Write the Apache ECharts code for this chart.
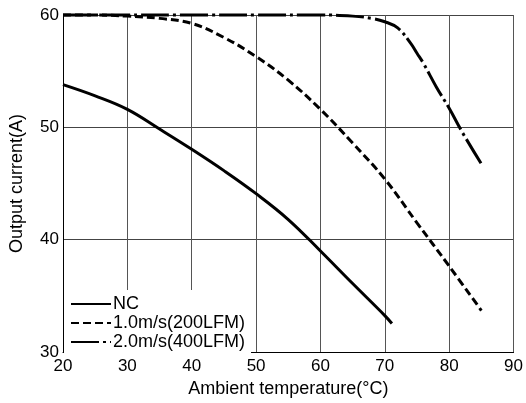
<!DOCTYPE html>
<html>
<head>
<meta charset="utf-8">
<script src="https://cdn.jsdelivr.net/npm/echarts@6/dist/echarts.min.js"></script>
<style>
html,body{margin:0;padding:0;background:#fff;}
#c{width:526px;height:403px;}
</style>
</head>
<body>
<div id="c"></div>
<script>
// Data
const seriesNames = ['NC', '1.0m/s(200LFM)', '2.0m/s(400LFM)'];
const ncTemp    = [20, 25, 30, 35, 40, 45, 50, 55, 60, 65, 70, 71.1];
const ncCurrent = [53.8, 52.8, 51.6, 49.85, 48.05, 46.15, 44.1, 41.8, 39.0, 36.1, 33.25, 32.55];
const v1Temp    = [20, 25, 30, 35, 40, 45, 50, 55, 60, 65, 70, 75, 80, 85];
const v1Current = [60, 60, 59.9, 59.7, 59.25, 58.0, 56.3, 54.2, 51.6, 48.6, 45.4, 41.5, 37.65, 33.7];
const v2Temp    = [20, 30, 40, 50, 60, 65, 68, 70, 72, 74, 75, 76, 78, 80, 82, 85];
const v2Current = [60, 60, 60, 60, 60, 59.9, 59.7, 59.4, 58.85, 57.5, 56.6, 55.7, 53.6, 51.7, 49.6, 46.75];
const xTicks = [20, 30, 40, 50, 60, 70, 80, 90];
const yTicks = [30, 40, 50, 60];
const xTitle = 'Ambient temperature(°C)';
const yTitle = 'Output current(A)';

const zip = (a, b) => a.map((v, i) => [v, b[i]]);
const FONT = "'Liberation Sans', Arial, Helvetica, sans-serif";

const chart = echarts.init(document.getElementById('c'), null, {renderer: 'canvas'});
chart.setOption({
  backgroundColor: '#fff',
  animation: false,
  textStyle: {fontFamily: FONT, color: '#000'},
  grid: {left: 62.5, right: 10.5, top: 15, bottom: 49, containLabel: false},
  xAxis: {
    type: 'value',
    min: xTicks[0], max: xTicks[xTicks.length - 1], interval: 10,
    name: xTitle, nameLocation: 'middle', nameGap: 26,
    nameTextStyle: {fontSize: 18, color: '#000', fontFamily: FONT},
    axisLine: {show: true, lineStyle: {color: '#000', width: 1}},
    axisTick: {show: false},
    axisLabel: {fontSize: 17, color: '#000', margin: 6, fontFamily: FONT},
    splitLine: {show: true, lineStyle: {color: '#555', width: 1}}
  },
  yAxis: {
    type: 'value',
    min: yTicks[0], max: yTicks[yTicks.length - 1], interval: 10,
    name: yTitle, nameLocation: 'middle', nameGap: 37, nameRotate: 90,
    nameTextStyle: {fontSize: 18, color: '#000', fontFamily: FONT},
    axisLine: {show: true, lineStyle: {color: '#000', width: 1}},
    axisTick: {show: false},
    axisLabel: {fontSize: 17, color: '#000', margin: 4, fontFamily: FONT},
    splitLine: {show: true, lineStyle: {color: '#444', width: 1}}
  },
  legend: {
    show: true,
    orient: 'vertical',
    left: 64, top: 290,
    padding: [5, 6, 2, 6],
    backgroundColor: '#fff',
    itemWidth: 40, itemHeight: 14, itemGap: 1,
    itemStyle: {opacity: 0},
    textStyle: {fontSize: 18, color: '#000', fontFamily: FONT, padding: [0, 0, 0, -3]},
    data: seriesNames
  },
  series: [
    {
      name: seriesNames[0], type: 'line', data: zip(ncTemp, ncCurrent),
      smooth: 0.4, showSymbol: false, symbol: 'none', clip: false,
      lineStyle: {color: '#000', width: 3, type: 'solid'},
      itemStyle: {color: '#000'}
    },
    {
      name: seriesNames[1], type: 'line', data: zip(v1Temp, v1Current),
      smooth: 0.4, showSymbol: false, symbol: 'none', clip: false,
      lineStyle: {color: '#000', width: 3, type: [8, 4]},
      itemStyle: {color: '#000'}
    },
    {
      name: seriesNames[2], type: 'line', data: zip(v2Temp, v2Current),
      smooth: 0.4, showSymbol: false, symbol: 'none', clip: false,
      lineStyle: {color: '#000', width: 3, type: [28, 4, 3, 4]},
      itemStyle: {color: '#000'}
    }
  ]
});
</script>
</body>
</html>
